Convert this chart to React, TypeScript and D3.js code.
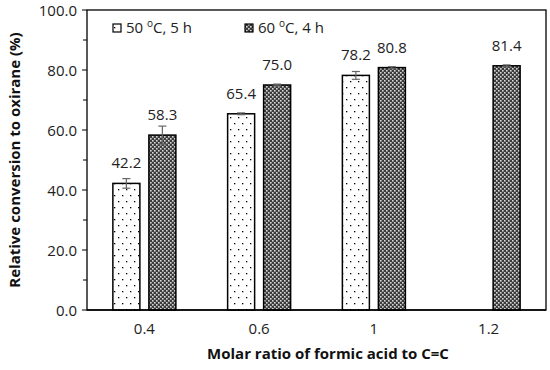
import * as d3 from "d3";

const categories = ["0.4", "0.6", "1", "1.2"];
const seriesNames = ["50 ºC, 5 h", "60 ºC, 4 h"];
const values50 = [42.2, 65.4, 78.2, null];
const errors50 = [1.6, 0.3, 1.3, null];
const values60 = [58.3, 75.0, 80.8, 81.4];
const errors60 = [3.0, 0.3, 0.3, 0.3];
const yTicks = [0, 20, 40, 60, 80, 100];
const yMinorTicks = [10, 30, 50, 70, 90];

const width = 550;
const height = 370;
const margin = { top: 10, right: 4, bottom: 60, left: 87 };
const font = "Open Sans, sans-serif";

export default function App() {
  const x = d3
    .scaleBand<string>()
    .domain(categories)
    .range([margin.left, width - margin.right]);
  const inner = d3
    .scaleBand<string>()
    .domain(["s0", "s1"])
    .range([-36, 36])
    .paddingInner(0.25)
    .paddingOuter(0.125);
  const y = d3
    .scaleLinear()
    .domain([0, 100])
    .range([height - margin.bottom, margin.top]);

  const series = [
    { key: "s0", values: values50, errors: errors50, fill: "url(#dots)" },
    { key: "s1", values: values60, errors: errors60, fill: "url(#checks)" },
  ];

  const plotW = width - margin.left - margin.right;
  const y0 = y(0);

  return (
    <svg
      width={width}
      height={height}
      style={{ position: "absolute", left: 0, top: 0, background: "#fff" }}
      fontFamily={font}
    >
      <defs>
        <pattern id="dots" width={8} height={12} patternUnits="userSpaceOnUse">
          <rect width={8} height={12} fill="#fff" />
          <rect x={2} y={3} width={1.3} height={1.3} fill="#000" />
          <rect x={6} y={9} width={1.3} height={1.3} fill="#000" />
        </pattern>
        <pattern id="checks" width={4} height={4} patternUnits="userSpaceOnUse">
          <rect width={4} height={4} fill="#3c3c3c" />
          <rect x={0} y={0} width={1.6} height={1.6} fill="#d8d8d8" />
          <rect x={2} y={2} width={1.6} height={1.6} fill="#d8d8d8" />
        </pattern>
      </defs>

      {/* plot border */}
      <rect
        x={margin.left}
        y={margin.top}
        width={plotW}
        height={y0 - margin.top}
        fill="none"
        stroke="#000"
        strokeWidth={1.3}
      />

      {/* y ticks */}
      {yTicks.map((t) => (
        <g key={t}>
          <line x1={margin.left - 5} x2={margin.left} y1={y(t)} y2={y(t)} stroke="#000" />
          <text
            x={margin.left - 10}
            y={y(t)}
            dy="0.4em"
            textAnchor="end"
            fontSize={15}
            fill="#222"
          >
            {t.toFixed(1)}
          </text>
        </g>
      ))}
      {yMinorTicks.map((t) => (
        <line key={t} x1={margin.left - 4} x2={margin.left} y1={y(t)} y2={y(t)} stroke="#000" />
      ))}

      {/* bars */}
      {series.map((s) =>
        categories.map((c, i) => {
          const v = s.values[i];
          if (v == null) return null;
          const bx = x(c)! + x.bandwidth() / 2 + inner(s.key)!;
          const bw = inner.bandwidth();
          const e = s.errors[i] ?? 0;
          const cx = bx + bw / 2;
          return (
            <g key={s.key + c}>
              <rect
                x={bx}
                y={y(v)}
                width={bw}
                height={y0 - y(v)}
                fill={s.fill}
                stroke="#000"
                strokeWidth={1.5}
              />
              <g stroke="#666" strokeWidth={1.2}>
                <line x1={cx} x2={cx} y1={y(v - e)} y2={y(v + e)} />
                <line x1={cx - 4} x2={cx + 4} y1={y(v + e)} y2={y(v + e)} />
                <line x1={cx - 4} x2={cx + 4} y1={y(v - e)} y2={y(v - e)} />
              </g>
              <text x={cx} y={y(v) - 15} textAnchor="middle" fontSize={15} fill="#222">
                {v.toFixed(1)}
              </text>
            </g>
          );
        })
      )}

      {/* x axis line over bars */}
      <line x1={margin.left} x2={width - margin.right} y1={y0} y2={y0} stroke="#000" strokeWidth={1.3} />

      {/* x tick labels */}
      {categories.map((c) => (
        <text
          key={c}
          x={x(c)! + x.bandwidth() / 2}
          y={y0 + 24}
          textAnchor="middle"
          fontSize={15}
          fill="#222"
        >
          {c}
        </text>
      ))}

      {/* axis titles */}
      <text
        x={328}
        y={height - 11}
        textAnchor="middle"
        fontSize={15}
        fontWeight="bold"
        fill="#111"
      >
        Molar ratio of formic acid to C=C
      </text>
      <text
        transform={`translate(20, ${(margin.top + y0) / 2}) rotate(-90)`}
        textAnchor="middle"
        fontSize={15}
        fontWeight="bold"
        fill="#111"
      >
        Relative conversion to oxirane (%)
      </text>

      {/* legend */}
      {series.map((s, i) => {
        const lx = 113 + i * 132;
        const ly = 28;
        const parts = seriesNames[i].split("º");
        return (
          <g key={s.key}>
            <rect x={lx} y={ly - 4} width={8} height={8} fill={s.fill} stroke="#000" strokeWidth={1.2} />
            <text x={lx + 13} y={ly} dy="0.35em" fontSize={15} fill="#222">
              {parts[0]}
              <tspan fontSize={10} dy="-0.6em">o</tspan>
              <tspan dy="0.4em">{parts[1]}</tspan>
            </text>
          </g>
        );
      })}
    </svg>
  );
}
